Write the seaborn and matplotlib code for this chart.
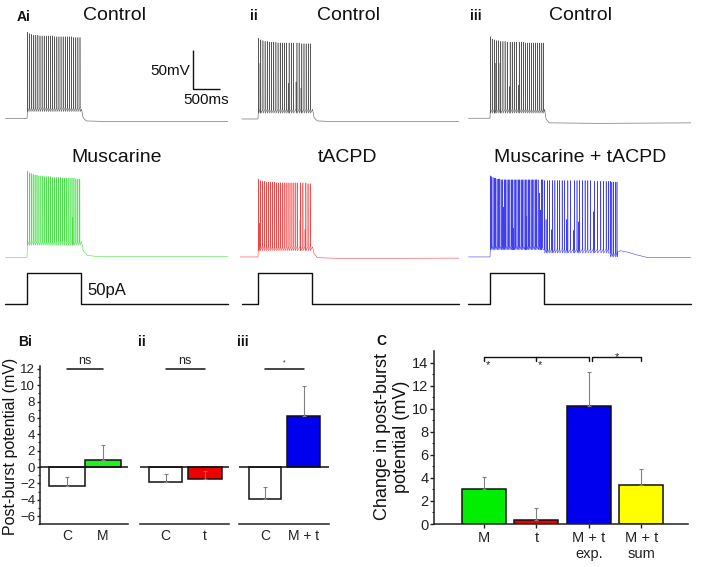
import numpy as np
import pandas as pd
import matplotlib
matplotlib.use("Agg")
import matplotlib.pyplot as plt
import seaborn as sns

sns.set_theme(style="ticks")
plt.rcParams["font.family"] = ["Liberation Sans", "DejaVu Sans"]
plt.rcParams["axes.edgecolor"] = "#222222"
plt.rcParams["xtick.color"] = "#222222"
plt.rcParams["ytick.color"] = "#222222"

# ---------------- data: traces (ms from step onset, mV) ----------------
ctrl_i_t = [12, 48, 86, 124, 162, 200, 239, 278, 317, 356, 395, 434, 473, 512,
            551, 590, 629, 668, 707, 746, 785, 824, 863, 902, 941, 980]
ctrl_i_v = [44, 42, 41, 40, 40, 40, 39, 39, 39, 39, 39, 39, 39, 38,
            38, 38, 38, 38, 38, 38, 38, 38, 37, 37, 37, 37]

musc_t = [10, 42, 76, 112, 148, 184, 220, 256, 292, 328, 364, 400, 436, 472, 508,
          544, 580, 616, 652, 688, 724, 760, 796, 832, 846, 868, 904, 940, 976]
musc_v = [40, 38, 37, 36, 35, 35, 34, 34, 34, 33, 33, 33, 33, 32, 32,
          32, 32, 32, 31, 31, 31, 31, 31, 31, -19, 31, 30, 30, 30]

ctrl_ii_t = [8, 37, 50, 90, 130, 170, 210, 250, 290, 330, 370, 410, 450, 490,
             530, 561, 575, 615, 655, 704, 720, 760, 796, 810, 850, 890, 930, 970]
ctrl_ii_v = [36, 4, 34, 33, 32, 32, 31, 31, 31, 31, 30, 30, 30, 30,
             30, -22, 30, 30, 30, -20, 30, 30, -28, 29, 29, 29, 29, 29]

tacpd_t = [6, 25, 40, 78, 116, 154, 192, 230, 268, 306, 344, 382, 420, 458,
           496, 534, 572, 610, 648, 686, 724, 778, 790, 830, 870, 885, 925, 965]
tacpd_v = [30, -27, 28, 27, 27, 26, 26, 26, 26, 26, 25, 25, 25, 25,
           25, 25, 25, 25, 25, 25, 25, -23, 25, 25, -35, 25, 24, 24]

ctrl_iii_t = [5, 40, 78, 92, 118, 158, 185, 198, 238, 278, 318, 358, 372, 410, 448,
              486, 525, 540, 578, 616, 654, 692, 730, 768, 806, 844, 882, 920, 958, 990]
ctrl_iii_v = [38, 35, 34, 4, 33, 33, 4, 32, 32, 32, 31, -26, 31, 31, 31,
              31, -24, 31, 31, 31, 30, 30, 30, 30, 30, 30, 30, 30, 30, 30]

mt_t = [8, 30, 55, 80, 105, 130, 155, 180, 205, 230,
        247, 262, 288, 314, 340, 366, 392, 418, 432, 445,
        472, 498, 524, 550, 576, 602, 628, 654, 667, 682,
        708, 734, 760, 786, 812, 838, 864, 890, 916, 938,
        950, 976,
        1010, 1037, 1065, 1100, 1142, 1160, 1200, 1245, 1290, 1335,
        1380, 1420, 1440, 1490, 1543, 1560, 1610, 1636, 1660, 1710,
        1760, 1810, 1860, 1914, 1930, 1990, 2050, 2100, 2150, 2190,
        2225, 2255, 2285, 2320, 2350]
mt_v = [34, 33, 32, 31, 31, 30, 30, 30, 29, 29,
        -6, 29, 29, 29, 29, 29, 29, 29, -33, 29,
        29, 29, 29, 29, 29, 29, 29, 29, -18, 29,
        29, 29, 29, 29, 29, 29, 29, 29, 12, -10,
        29, 29,
        28, -22, 28, 28, -35, 28, 28, 28, 28, 28,
        28, -22, 28, 28, -36, 28, 28, -25, 28, 28,
        28, 28, 28, -12, 27, 27, 27, 27, 27, 27,
        27, 26, 26, 26, 26]
mt_trough = [-56] * 42 + [-60] * 30 + [-65] * 5

# subthreshold levels: start time, pre-step level, burst trough, after-burst knots
ctrl_i_base = (-400, -67, -53, [(1010, -55), (1040, -66), (1100, -70), (1400, -70.5), (3720, -70.5)])
musc_base = (-400, -70.5, -50, [(1010, -50), (1040, -62), (1120, -68), (1300, -69.5), (3720, -69.5)])
ctrl_ii_base = (-300, -67.5, -55, [(1010, -55), (1040, -66), (1100, -70), (1500, -71), (3720, -70.5)])
tacpd_base = (-330, -70, -57, [(1010, -57), (1040, -66), (1100, -71), (1600, -72), (3720, -71.5)])
ctrl_iii_base = (-400, -66.5, -55, [(1010, -55), (1040, -68), (1100, -72.5), (2000, -73), (3720, -72.5)])
mt_base = (-400, -70, mt_trough, [(2360, -64), (2420, -62), (2480, -63), (2560, -64),
                                  (2700, -67), (2900, -70.5), (3720, -71)])

step_t = [0, 0, 1000, 1000, 3720]
step_pa = [0, 50, 50, 0, 0]

# ---------------- data: bar panels ----------------
bi_labels = ["C", "M"]
bi_mean = [-2.3, 0.8]
bi_err = [1.05, 1.95]
bii_labels = ["C", "t"]
bii_mean = [-1.85, -1.5]
bii_err = [1.0, 1.0]
biii_labels = ["C", "M + t"]
biii_mean = [-3.9, 6.2]
biii_err = [1.5, 3.7]
b_sig = ["ns", "ns", "*"]

c_labels = ["M", "t", "M + t\nexp.", "M + t\nsum"]
c_mean = [3.05, 0.35, 10.2, 3.4]
c_err = [1.05, 1.05, 3.0, 1.4]

# ---------------- figure ----------------
W, H = 708, 567
fig = plt.figure(figsize=(7.08, 5.67), dpi=100)


def box(left, top, right, bottom):
    return [left / W, 1 - bottom / H, (right - left) / W, (bottom - top) / H]


def ftext(x, y, s, **kw):
    kw.setdefault("color", "#111111")
    fig.text(x / W, 1 - y / H, s, **kw)


def trace_frame(t0, pre, spk_t, spk_v, trough, tail):
    tr = np.broadcast_to(np.asarray(trough, float), (len(spk_t),))
    pts = [(t0, pre), (0, pre)]
    for t, v, b in zip(spk_t, spk_v, tr):
        pts += [(t, b), (t + 1.5, v), (t + 4, b - 5)]
    pts += tail
    arr = np.array(pts, float)
    return pd.DataFrame({"t": arr[:, 0], "v": arr[:, 1]})


PX_MS = 0.054
onset_px = [27, 258, 490]
row_top = [25, 161]
MV_PX = 0.78
YLIM = (-81.5, 53)
XLIM = (-420, 3760)

traces = [
    [(ctrl_i_t, ctrl_i_v, ctrl_i_base, "#444444"), (musc_t, musc_v, musc_base, "#33dd33")],
    [(ctrl_ii_t, ctrl_ii_v, ctrl_ii_base, "#444444"), (tacpd_t, tacpd_v, tacpd_base, "#ee3333")],
    [(ctrl_iii_t, ctrl_iii_v, ctrl_iii_base, "#444444"), (mt_t, mt_v, mt_base, "#2a2aee")],
]

for c in range(3):
    left = onset_px[c] + XLIM[0] * PX_MS
    right = onset_px[c] + XLIM[1] * PX_MS
    for r in range(2):
        top = row_top[r]
        bottom = top + (YLIM[1] - YLIM[0]) * MV_PX
        ax = fig.add_axes(box(left, top, right, bottom))
        spk_t, spk_v, base, col = traces[c][r]
        df = trace_frame(base[0], base[1], spk_t, spk_v, base[2], base[3])
        sns.lineplot(data=df, x="t", y="v", sort=False, estimator=None,
                     color=col, lw=0.4, alpha=0.9, ax=ax)
        ax.set_xlim(*XLIM)
        ax.set_ylim(*YLIM)
        ax.axis("off")
        if c == 0 and r == 0:
            ax.plot([3069, 3069, 3569], [20.7, -29.3, -29.3], color="#111111",
                    lw=1.0, solid_capstyle="butt")
    # current step
    ax = fig.add_axes(box(left, 268, right, 310))
    sdf = pd.DataFrame({"t": [traces[c][0][2][0]] + step_t,
                        "pa": [0] + step_pa})
    sns.lineplot(data=sdf, x="t", y="pa", sort=False, estimator=None,
                 color="#111111", lw=1.0, ax=ax)
    ax.set_xlim(*XLIM)
    ax.set_ylim(-9.7, 58)
    ax.axis("off")

# panel A texts
ftext(17, 17, "Ai", fontsize=10, fontweight="bold", ha="left", va="center")
ftext(250, 16, "ii", fontsize=10, fontweight="bold", ha="left", va="center")
ftext(470, 16, "iii", fontsize=10, fontweight="bold", ha="left", va="center")
for x, s in [(115, "Control"), (348, "Control"), (581, "Control")]:
    ftext(x, 15, s, fontsize=14, ha="center", va="center")
for x, s in [(117, "Muscarine"), (348, "tACPD"), (580, "Muscarine + tACPD")]:
    ftext(x, 158, s, fontsize=14, ha="center", va="center")
ftext(190, 71, "50mV", fontsize=11, ha="right", va="center")
ftext(206, 100, "500ms", fontsize=11, ha="center", va="center")
ftext(87, 290, "50pA", fontsize=12, ha="left", va="center")

# ---------------- panel B ----------------
b_panels = [
    (bi_labels, bi_mean, bi_err, ["white", "#22ee22"], (40, 128), 1.0, (-0.74, 1.69)),
    (bii_labels, bii_mean, bii_err, ["white", "#ee0000"], (140, 229), 0.84, (-0.65, 1.61)),
    (biii_labels, biii_mean, biii_err, ["white", "#0000ee"], (239, 329), 0.84, (-0.68, 1.66)),
]
for i, (labels, mean, err, cols, (l, r), w, xl) in enumerate(b_panels):
    ax = fig.add_axes(box(l, 365.7, r, 524.2))
    sns.barplot(x=labels, y=mean, hue=labels, palette=cols, legend=False,
                width=w, saturation=1, edgecolor="#111111", linewidth=1.1,
                errorbar=None, ax=ax)
    ax.errorbar(range(len(mean)), mean, yerr=[np.zeros(len(err)), err],
                fmt="none", ecolor="#808080", elinewidth=0.8, capsize=1.5,
                capthick=0.8, zorder=4)
    ax.axhline(0, color="#111111", lw=1.1, zorder=5)
    ax.set_xlim(*xl)
    ax.set_ylim(-7, 12.4)
    sns.despine(ax=ax, left=(i > 0))
    ax.spines["bottom"].set_linewidth(1.1)
    ax.spines["left"].set_linewidth(1.1)
    ax.tick_params(axis="x", length=0, labelsize=10, pad=3.5)
    if i == 0:
        ax.set_yticks(range(-6, 13, 2))
        ax.set_yticks(range(-7, 12, 2), minor=True)
        ax.tick_params(axis="y", which="major", direction="out", length=2.5,
                       width=1, labelsize=9.5, pad=1)
        ax.tick_params(axis="y", which="minor", direction="out", length=1.5, width=0.8)
    else:
        ax.set_yticks([])
    # significance line
    ax.plot([0, 1], [12, 12], color="#111111", lw=1.1, clip_on=False)
    if b_sig[i] == "ns":
        ax.text(0.5, 12.25, b_sig[i], ha="center", va="bottom", fontsize=9)
    else:
        ax.text(0.5, 12.3, b_sig[i], ha="center", va="bottom", fontsize=5)
    ax.set_xlabel("")
    ax.set_ylabel("")

ftext(18, 342, "Bi", fontsize=10, fontweight="bold", ha="left", va="center")
ftext(138, 342, "ii", fontsize=10, fontweight="bold", ha="left", va="center")
ftext(237, 342, "iii", fontsize=10, fontweight="bold", ha="left", va="center")
ftext(11, 446, "Post-burst potential (mV)", fontsize=11.5, rotation=90,
      ha="center", va="center")

# ---------------- panel C ----------------
ax = fig.add_axes(box(434, 351, 688, 524))
sns.barplot(x=c_labels, y=c_mean, hue=c_labels,
            palette=["#00ee00", "#ee0000", "#0000ee", "#ffff00"], legend=False,
            width=0.84, saturation=1, edgecolor="#111111", linewidth=1.1,
            errorbar=None, ax=ax)
ax.errorbar(range(len(c_mean)), c_mean, yerr=[np.zeros(len(c_err)), c_err],
            fmt="none", ecolor="#808080", elinewidth=0.8, capsize=1.5,
            capthick=0.8, zorder=4)
ax.set_xlim(-0.95, 3.89)
ax.set_ylim(0, 15)
sns.despine(ax=ax)
ax.spines["bottom"].set_linewidth(1.1)
ax.spines["left"].set_linewidth(1.1)
ax.set_yticks(range(0, 15, 2))
ax.set_yticks(range(1, 15, 2), minor=True)
ax.tick_params(axis="y", which="major", direction="out", length=3, width=1,
               labelsize=10.5, pad=1)
ax.tick_params(axis="y", which="minor", direction="out", length=1.5, width=0.8)
ax.tick_params(axis="x", direction="out", length=3, width=1, labelsize=10.5, pad=2)
for lab in ax.get_xticklabels():
    lab.set_linespacing(1.2)
ax.set_xlabel("")
ax.set_ylabel("")

# significance brackets: M & t vs exp., exp. vs sum
yb, yt = 14.1, 14.45
ax.plot([0, 0, 2, 2], [yb, yt, yt, yb], color="#111111", lw=1.0, clip_on=False)
ax.plot([1, 1], [yt, yb], color="#111111", lw=1.0, clip_on=False)
ax.plot([2.06, 2.06, 3, 3], [yb, yt, yt, yb], color="#111111", lw=1.0, clip_on=False)
for x, y in [(0.07, 13.75), (1.07, 13.75), (2.53, 14.5)]:
    ax.text(x, y, "*", ha="center", va="center", fontsize=8)

ftext(376, 341, "C", fontsize=10, fontweight="bold", ha="left", va="center")
ftext(392, 437, "Change in post-burst\npotential (mV)", fontsize=13, rotation=90,
      ha="center", va="center", linespacing=1.2)

fig.savefig("out.png", dpi=100)
